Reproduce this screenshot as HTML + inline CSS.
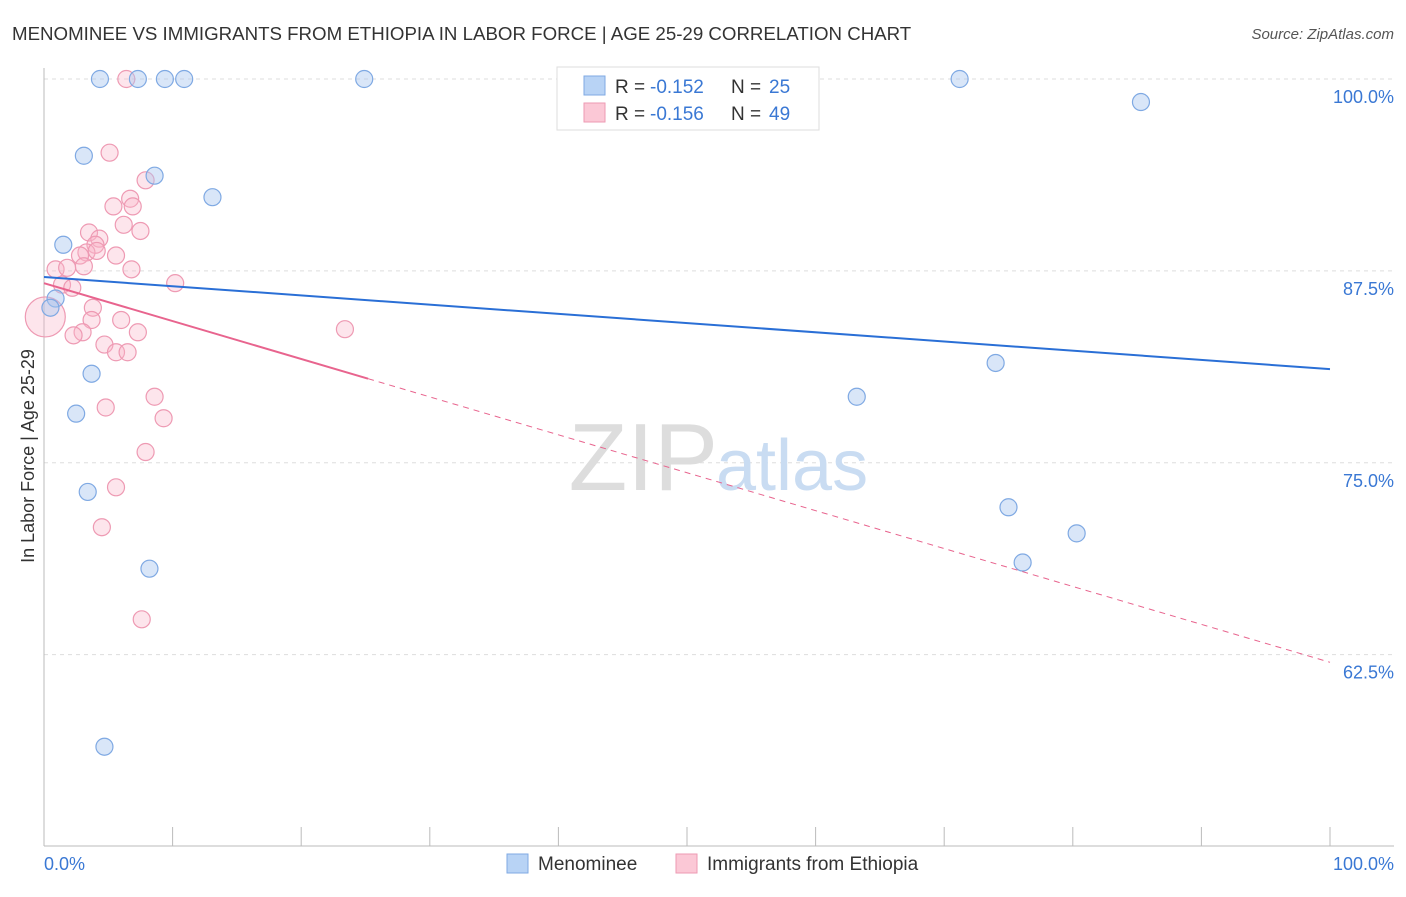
<!DOCTYPE html>
<html><head><meta charset="utf-8"><style>
body{margin:0;background:#fff;font-family:"Liberation Sans",sans-serif;}
svg text{font-family:"Liberation Sans",sans-serif;}
</style></head><body>
<svg id="chart" width="1406" height="892" xmlns="http://www.w3.org/2000/svg">
<text x="12" y="40" font-size="18.7" fill="#333">MENOMINEE VS IMMIGRANTS FROM ETHIOPIA IN LABOR FORCE | AGE 25-29 CORRELATION CHART</text>
<text x="1394" y="39" font-size="15" fill="#555" text-anchor="end" font-style="italic">Source: ZipAtlas.com</text>
<g id="grid"></g>
<g id="axes"></g>
<text x="718" y="490" font-size="96" fill="#ddd" text-anchor="end" font-family="Liberation Serif">ZIP</text>
<text x="716" y="490" font-size="72" fill="#c9dcf2">atlas</text>
<g id="marks"></g>
<text x="34" y="456" font-size="18" fill="#333" text-anchor="middle" transform="rotate(-90 34 456)">In Labor Force | Age 25-29</text>
<text x="44" y="870" font-size="18" fill="#3a78d4">0.0%</text>
<text x="1394" y="870" font-size="18" fill="#3a78d4" text-anchor="end">100.0%</text>
<g>
<rect x="557" y="67" width="262" height="63" fill="#fff" stroke="#ddd"/>
<rect x="584" y="76" width="21" height="19" fill="#b8d3f5" stroke="#7fa9e3"/>
<rect x="584" y="103" width="21" height="19" fill="#fbc8d6" stroke="#ee9ab3"/>
<text x="615" y="93" font-size="19" fill="#333">R =</text>
<text x="650" y="93" font-size="19" fill="#3a78d4">-0.152</text>
<text x="731" y="93" font-size="19" fill="#333">N =</text>
<text x="769" y="93" font-size="19" fill="#3a78d4">25</text>
<text x="615" y="120" font-size="19" fill="#333">R =</text>
<text x="650" y="120" font-size="19" fill="#3a78d4">-0.156</text>
<text x="731" y="120" font-size="19" fill="#333">N =</text>
<text x="769" y="120" font-size="19" fill="#3a78d4">49</text>
</g>
<g>
<rect x="507" y="854" width="21" height="19" fill="#b8d3f5" stroke="#7fa9e3"/>
<text x="538" y="870" font-size="19" fill="#333">Menominee</text>
<rect x="676" y="854" width="21" height="19" fill="#fbc8d6" stroke="#ee9ab3"/>
<text x="707" y="870" font-size="19" fill="#333">Immigrants from Ethiopia</text>
</g>
</svg>
<script>
const yTicks=[100,87.5,75,62.5];
const yTickLabels=["100.0%","87.5%","75.0%","62.5%"];
const blueX=[4.35,7.3,9.4,10.9,24.9,71.2,85.3,3.1,8.6,13.1,1.5,0.9,0.5,3.7,2.5,3.4,8.2,4.7,63.2,74.0,75.0,80.3,76.1];
const blueY=[100,100,100,100,100,100,98.5,95.0,93.7,92.3,89.2,85.7,85.1,80.8,78.2,73.1,68.1,56.5,79.3,81.5,72.1,70.4,68.5];
const pinkX=[6.4,5.1,7.9,6.7,5.4,6.9,6.2,7.5,3.5,4.3,4.0,3.3,4.1,5.6,2.8,0.9,1.8,3.1,6.8,10.2,1.4,2.2,0.1,3.8,3.7,6.0,3.0,2.3,7.3,23.4,4.7,5.6,6.5,8.6,4.8,9.3,7.9,5.6,4.5,7.6];
const pinkY=[100,95.2,93.4,92.2,91.7,91.7,90.5,90.1,90.0,89.6,89.2,88.7,88.8,88.5,88.5,87.6,87.7,87.8,87.6,86.7,86.6,86.4,84.5,85.1,84.3,84.3,83.5,83.3,83.5,83.7,82.7,82.2,82.2,79.3,78.6,77.9,75.7,73.4,70.8,64.8];
const blueTrend=[87.1,81.1];
const pinkTrend=[86.7,62.0];
const pinkSolidEnd=25.2;
const X=v=>44+v*12.86, Y=v=>79+(100-v)*15.35;
const NS="http://www.w3.org/2000/svg";
function mk(t,a,p){const e=document.createElementNS(NS,t);for(const k in a)e.setAttribute(k,a[k]);p.appendChild(e);return e;}
const grid=document.getElementById('grid'),axes=document.getElementById('axes'),marks=document.getElementById('marks');
yTicks.forEach((t,i)=>{
 const l=mk('line',{x1:44,x2:1394,y1:Y(t),y2:Y(t),stroke:'#ddd','stroke-dasharray':'4,4'},grid);
 
 
 const tx=mk('text',{x:1394,y:Y(t)+24,'font-size':18,fill:'#3a78d4','text-anchor':'end'},axes);
 tx.textContent=yTickLabels[i];
 
 
});
mk('line',{x1:44,x2:44,y1:68,y2:846,stroke:'#bbb'},axes);
mk('line',{x1:44,x2:1394,y1:846,y2:846,stroke:'#bbb'},axes);
for(let i=0;i<=10;i++){const x=X(i*10);const t=mk('line',{x1:x,x2:x,y1:827,y2:846,stroke:'#bbb'},axes);
 
 }
pinkX.forEach((x,i)=>{const c=mk('circle',{cx:X(x),cy:Y(pinkY[i]),r:i==22?20:8.5,fill:'rgba(248,180,200,0.35)',stroke:'#ee9ab3','stroke-width':1.2},marks);
 
 });
blueX.forEach((x,i)=>{const c=mk('circle',{cx:X(x),cy:Y(blueY[i]),r:8.5,fill:'rgba(170,200,240,0.45)',stroke:'#7fa9e3','stroke-width':1.2},marks);
 
 });
const pt=v=>pinkTrend[0]+(pinkTrend[1]-pinkTrend[0])*v/100;
const bl=mk('line',{x1:X(0),y1:Y(blueTrend[0]),x2:X(100),y2:Y(blueTrend[1]),stroke:'#2a6fd6','stroke-width':2},marks);


const ps=mk('line',{x1:X(0),y1:Y(pt(0)),x2:X(pinkSolidEnd),y2:Y(pt(pinkSolidEnd)),stroke:'#e8648e','stroke-width':2},marks);


const pd=mk('line',{x1:X(pinkSolidEnd),y1:Y(pt(pinkSolidEnd)),x2:X(100),y2:Y(pt(100)),stroke:'#e8648e','stroke-width':1,'stroke-dasharray':'6,5'},marks);


</script>
</body></html>
